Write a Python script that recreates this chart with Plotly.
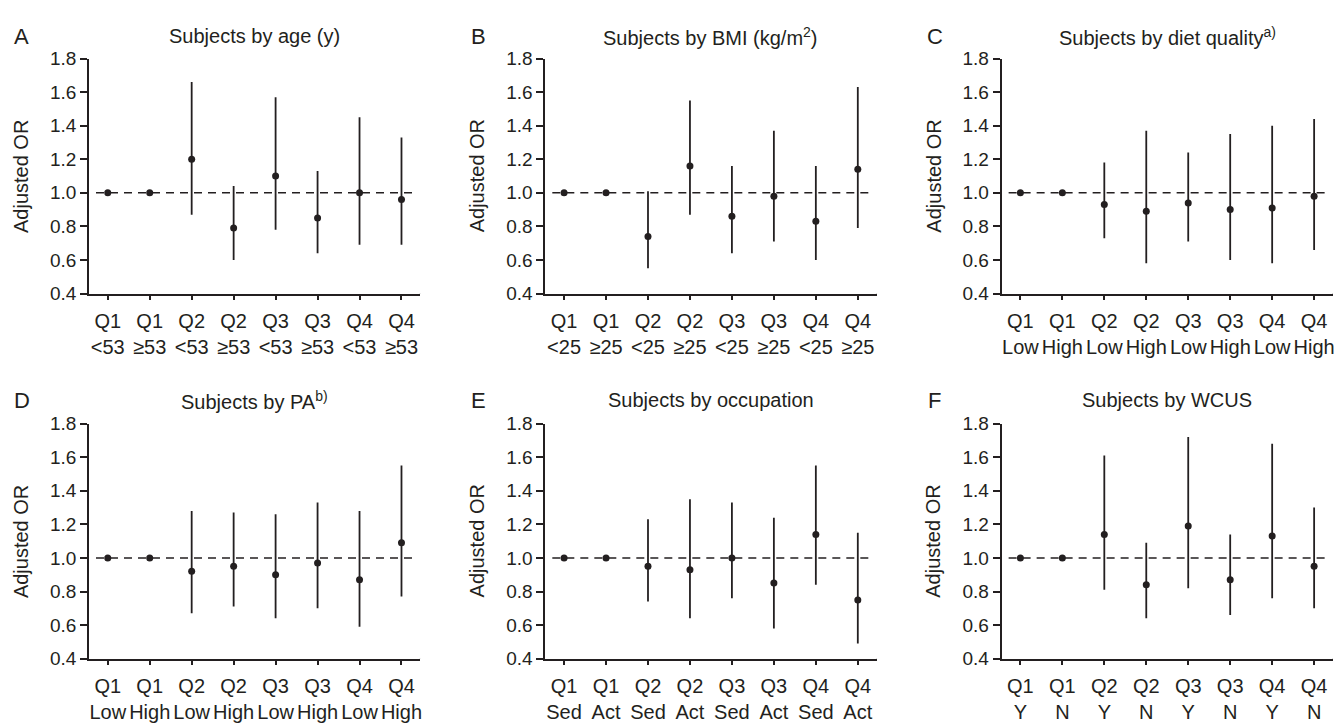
import plotly.graph_objects as go

# ---------------- data ----------------
quartiles = ["Q1", "Q1", "Q2", "Q2", "Q3", "Q3", "Q4", "Q4"]

groups_A = ["&lt;53", "≥53"] * 4
or_A = [1.00, 1.00, 1.20, 0.79, 1.10, 0.85, 1.00, 0.96]
lo_A = [None, None, 0.87, 0.60, 0.78, 0.64, 0.69, 0.69]
hi_A = [None, None, 1.66, 1.04, 1.57, 1.13, 1.45, 1.33]

groups_B = ["&lt;25", "≥25"] * 4
or_B = [1.00, 1.00, 0.74, 1.16, 0.86, 0.98, 0.83, 1.14]
lo_B = [None, None, 0.55, 0.87, 0.64, 0.71, 0.60, 0.79]
hi_B = [None, None, 1.01, 1.55, 1.16, 1.37, 1.16, 1.63]

groups_C = ["Low", "High"] * 4
or_C = [1.00, 1.00, 0.93, 0.89, 0.94, 0.90, 0.91, 0.98]
lo_C = [None, None, 0.73, 0.58, 0.71, 0.60, 0.58, 0.66]
hi_C = [None, None, 1.18, 1.37, 1.24, 1.35, 1.40, 1.44]

groups_D = ["Low", "High"] * 4
or_D = [1.00, 1.00, 0.92, 0.95, 0.90, 0.97, 0.87, 1.09]
lo_D = [None, None, 0.67, 0.71, 0.64, 0.70, 0.59, 0.77]
hi_D = [None, None, 1.28, 1.27, 1.26, 1.33, 1.28, 1.55]

groups_E = ["Sed", "Act"] * 4
or_E = [1.00, 1.00, 0.95, 0.93, 1.00, 0.85, 1.14, 0.75]
lo_E = [None, None, 0.74, 0.64, 0.76, 0.58, 0.84, 0.49]
hi_E = [None, None, 1.23, 1.35, 1.33, 1.24, 1.55, 1.15]

groups_F = ["Y", "N"] * 4
or_F = [1.00, 1.00, 1.14, 0.84, 1.19, 0.87, 1.13, 0.95]
lo_F = [None, None, 0.81, 0.64, 0.82, 0.66, 0.76, 0.70]
hi_F = [None, None, 1.61, 1.09, 1.72, 1.14, 1.68, 1.30]

letters = ["A", "B", "C", "D", "E", "F"]
titles = [
    "Subjects by age (y)",
    "Subjects by BMI (kg/m<sup>2</sup>)",
    "Subjects by diet quality<sup>a)</sup>",
    "Subjects by PA<sup>b)</sup>",
    "Subjects by occupation",
    "Subjects by WCUS",
]
y_title = "Adjusted OR"
ref_value = 1.0

panels = [
    (groups_A, or_A, lo_A, hi_A),
    (groups_B, or_B, lo_B, hi_B),
    (groups_C, or_C, lo_C, hi_C),
    (groups_D, or_D, lo_D, hi_D),
    (groups_E, or_E, lo_E, hi_E),
    (groups_F, or_F, lo_F, hi_F),
]

# ---------------- layout geometry ----------------
W, H = 1338, 725
INK = "#231f20"
FONT = "Liberation Sans, Arial, Helvetica, sans-serif"
col_x0 = [89, 546, 1003]
axis_w = 332
row_top = [50, 426]
row_bot = [292, 668]
title_y = [27, 402]
letter_x = [22, 479, 936]
X_RANGE = [0.55, 8.45]

fig = go.Figure()
layout = dict(
    width=W, height=H,
    margin=dict(l=0, r=0, t=0, b=0),
    paper_bgcolor="white", plot_bgcolor="white",
    showlegend=False,
    font=dict(family=FONT, color=INK, size=19),
    shapes=[], annotations=[],
)

for i, (groups, orv, lo, hi) in enumerate(panels):
    r, c = divmod(i, 3)
    n = i + 1
    xa = "x" if n == 1 else f"x{n}"
    ya = "y" if n == 1 else f"y{n}"
    xkey = "xaxis" if n == 1 else f"xaxis{n}"
    ykey = "yaxis" if n == 1 else f"yaxis{n}"
    xs = list(range(1, len(orv) + 1))
    up = [(h - v) if h is not None else 0 for h, v in zip(hi, orv)]
    dn = [(v - l) if l is not None else 0 for l, v in zip(lo, orv)]
    fig.add_trace(go.Scatter(
        x=xs, y=orv, mode="markers", xaxis=xa, yaxis=ya,
        marker=dict(size=7, color=INK),
        error_y=dict(type="data", symmetric=False, array=up, arrayminus=dn,
                     color=INK, thickness=1.8, width=0),
        hoverinfo="skip",
    ))
    x0 = col_x0[c]
    dom_x = [x0 / W, (x0 + axis_w) / W]
    dom_y = [1 - row_bot[r] / H, 1 - row_top[r] / H]
    ticktext = [f"{q}<br>{g}" for q, g in zip(quartiles, groups)]
    layout[xkey] = dict(
        domain=dom_x, anchor=ya, range=X_RANGE,
        tickmode="array", tickvals=xs, ticktext=ticktext,
        showline=True, linecolor=INK, linewidth=1.5,
        ticks="outside", ticklen=5, tickwidth=1.5, tickcolor=INK,
        ticklabelstandoff=4,
        showgrid=False, zeroline=False,
        tickfont=dict(size=20, color=INK, family=FONT),
    )
    layout[ykey] = dict(
        domain=dom_y, anchor=xa, range=[0.4, 1.8],
        tickmode="linear", tick0=0.4, dtick=0.2, tickformat=".1f",
        showline=True, linecolor=INK, linewidth=1.5,
        ticks="outside", ticklen=7, tickwidth=1.5, tickcolor=INK,
        showgrid=False, zeroline=False,
        tickfont=dict(size=19, color=INK, family=FONT),
    )
    # end tick at the right end of the x axis
    layout["shapes"].append(dict(
        type="line", xref=xa, yref=ya, ysizemode="pixel", yanchor=0.4,
        x0=X_RANGE[1], x1=X_RANGE[1], y0=0, y1=-5,
        line=dict(color=INK, width=1.5),
    ))
    # reference line at OR = 1
    layout["shapes"].append(dict(
        type="line", xref=xa, yref=ya, x0=0.72, x1=8.28, y0=ref_value, y1=ref_value,
        line=dict(color=INK, width=1.5, dash="8px,6px"), layer="below",
    ))
    # panel title
    layout["annotations"].append(dict(
        text=titles[i], xref="paper", yref="paper",
        x=(dom_x[0] + dom_x[1]) / 2, y=1 - title_y[r] / H,
        xanchor="center", yanchor="middle", showarrow=False,
        font=dict(size=20, color=INK, family=FONT),
    ))
    # panel letter
    layout["annotations"].append(dict(
        text=letters[i], xref="paper", yref="paper",
        x=letter_x[c] / W, y=1 - title_y[r] / H,
        xanchor="center", yanchor="middle", showarrow=False,
        font=dict(size=22, color=INK, family=FONT),
    ))
    # y axis title
    layout["annotations"].append(dict(
        text=y_title, xref="paper", yref="paper",
        x=(x0 - 68) / W, y=1 - (row_top[r] + row_bot[r]) / 2 / H,
        xanchor="center", yanchor="middle", textangle=-90, showarrow=False,
        font=dict(size=20, color=INK, family=FONT),
    ))

fig.update_layout(**layout)
fig.write_html("out.html", config={"displayModeBar": False},
               post_script="document.body.style.margin='0';")
